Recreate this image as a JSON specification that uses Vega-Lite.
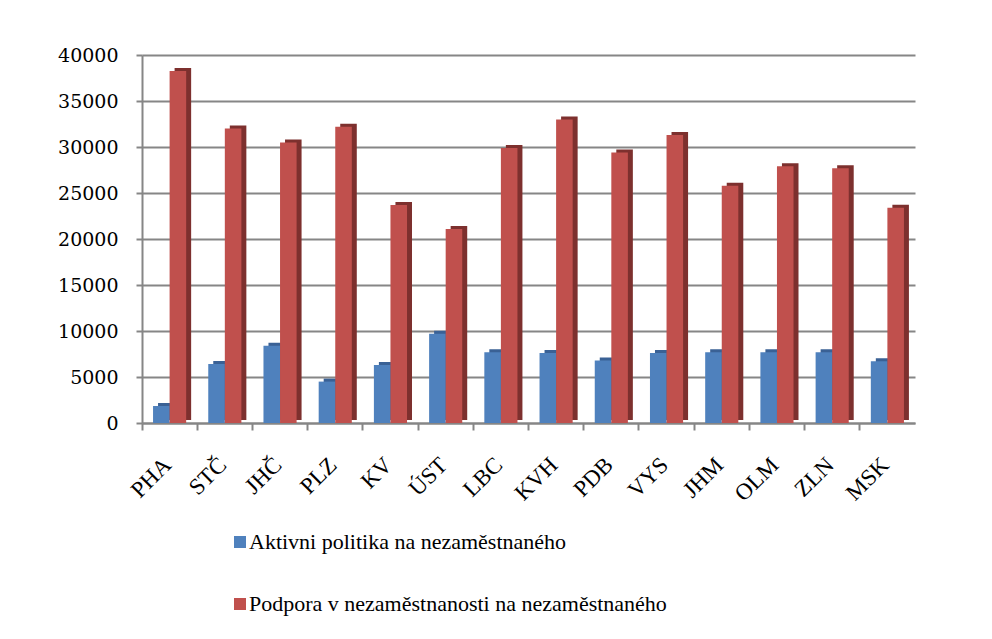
{
  "$schema": "https://vega.github.io/schema/vega-lite/v6.json",
  "autosize": {"type": "none"},
  "padding": {"left": 142, "top": 55, "right": 77, "bottom": 216},
  "width": 773,
  "height": 368,
  "background": "white",
  "data": {
    "values": [
      {"kraj": "PHA", "serie": "Aktivni politika na nezaměstnaného", "hodnota": 1850},
      {"kraj": "PHA", "serie": "Podpora v nezaměstnanosti na nezaměstnaného", "hodnota": 38250},
      {"kraj": "STČ", "serie": "Aktivni politika na nezaměstnaného", "hodnota": 6400},
      {"kraj": "STČ", "serie": "Podpora v nezaměstnanosti na nezaměstnaného", "hodnota": 32000},
      {"kraj": "JHČ", "serie": "Aktivni politika na nezaměstnaného", "hodnota": 8400},
      {"kraj": "JHČ", "serie": "Podpora v nezaměstnanosti na nezaměstnaného", "hodnota": 30500},
      {"kraj": "PLZ", "serie": "Aktivni politika na nezaměstnaného", "hodnota": 4500},
      {"kraj": "PLZ", "serie": "Podpora v nezaměstnanosti na nezaměstnaného", "hodnota": 32200},
      {"kraj": "KV", "serie": "Aktivni politika na nezaměstnaného", "hodnota": 6300},
      {"kraj": "KV", "serie": "Podpora v nezaměstnanosti na nezaměstnaného", "hodnota": 23700},
      {"kraj": "ÚST", "serie": "Aktivni politika na nezaměstnaného", "hodnota": 9700},
      {"kraj": "ÚST", "serie": "Podpora v nezaměstnanosti na nezaměstnaného", "hodnota": 21100},
      {"kraj": "LBC", "serie": "Aktivni politika na nezaměstnaného", "hodnota": 7700},
      {"kraj": "LBC", "serie": "Podpora v nezaměstnanosti na nezaměstnaného", "hodnota": 29900},
      {"kraj": "KVH", "serie": "Aktivni politika na nezaměstnaného", "hodnota": 7600},
      {"kraj": "KVH", "serie": "Podpora v nezaměstnanosti na nezaměstnaného", "hodnota": 33000},
      {"kraj": "PDB", "serie": "Aktivni politika na nezaměstnaného", "hodnota": 6800},
      {"kraj": "PDB", "serie": "Podpora v nezaměstnanosti na nezaměstnaného", "hodnota": 29400},
      {"kraj": "VYS", "serie": "Aktivni politika na nezaměstnaného", "hodnota": 7600},
      {"kraj": "VYS", "serie": "Podpora v nezaměstnanosti na nezaměstnaného", "hodnota": 31300},
      {"kraj": "JHM", "serie": "Aktivni politika na nezaměstnaného", "hodnota": 7700},
      {"kraj": "JHM", "serie": "Podpora v nezaměstnanosti na nezaměstnaného", "hodnota": 25800},
      {"kraj": "OLM", "serie": "Aktivni politika na nezaměstnaného", "hodnota": 7700},
      {"kraj": "OLM", "serie": "Podpora v nezaměstnanosti na nezaměstnaného", "hodnota": 27900},
      {"kraj": "ZLN", "serie": "Aktivni politika na nezaměstnaného", "hodnota": 7700},
      {"kraj": "ZLN", "serie": "Podpora v nezaměstnanosti na nezaměstnaného", "hodnota": 27700},
      {"kraj": "MSK", "serie": "Aktivni politika na nezaměstnaného", "hodnota": 6700},
      {"kraj": "MSK", "serie": "Podpora v nezaměstnanosti na nezaměstnaného", "hodnota": 23400}
    ]
  },
  "encoding": {
    "x": {
      "field": "kraj",
      "type": "nominal",
      "sort": null,
      "scale": {"paddingInner": 0.4, "paddingOuter": 0.2},
      "axis": {
        "title": null,
        "labelAngle": -45,
        "labelAlign": "right",
        "labelBaseline": "middle",
        "labelFont": "Liberation Serif",
        "labelFontSize": 23,
        "labelColor": "black",
        "labelPadding": 31,
        "labelOffset": -2,
        "bandPosition": -0.3333,
        "tickSize": 7,
        "tickColor": "#868686",
        "tickWidth": 2,
        "domainColor": "#868686",
        "domainWidth": 2,
        "grid": false
      }
    },
    "y": {
      "field": "hodnota",
      "type": "quantitative",
      "scale": {"domain": [0, 40000], "nice": false},
      "axis": {
        "title": null,
        "values": [0, 5000, 10000, 15000, 20000, 25000, 30000, 35000, 40000],
        "format": "d",
        "labelFont": "DejaVu Serif",
        "labelFontSize": 19,
        "labelColor": "black",
        "labelPadding": 18,
        "tickSize": 6,
        "tickColor": "#868686",
        "tickWidth": 2,
        "domainColor": "#868686",
        "domainWidth": 2,
        "gridColor": "#868686",
        "gridWidth": 2
      }
    }
  },
  "layer": [
    {
      "mark": {"type": "bar", "yOffset": -3},
      "encoding": {
        "xOffset": {"field": "serie", "type": "nominal", "scale": {"range": [5, 38.1]}},
        "color": {
          "field": "serie",
          "type": "nominal",
          "scale": {
            "domain": ["Aktivni politika na nezaměstnaného", "Podpora v nezaměstnanosti na nezaměstnaného"],
            "range": ["#3A6195", "#7D302E"]
          },
          "legend": null
        }
      }
    },
    {
      "mark": {"type": "bar"},
      "encoding": {
        "xOffset": {"field": "serie", "type": "nominal"},
        "color": {
          "field": "serie",
          "type": "nominal",
          "scale": {
            "domain": ["Aktivni politika na nezaměstnaného", "Podpora v nezaměstnanosti na nezaměstnaného"],
            "range": ["#4F81BD", "#C0504D"]
          },
          "legend": {
            "title": null,
            "orient": "none",
            "legendX": 87,
            "legendY": 476,
            "direction": "vertical",
            "symbolType": "square",
            "symbolSize": 144,
            "symbolStrokeWidth": 0,
            "rowPadding": 40,
            "labelOffset": -2,
            "labelFont": "Liberation Serif",
            "labelFontSize": 22,
            "labelColor": "black",
            "labelLimit": 700
          }
        }
      }
    }
  ],
  "resolve": {"scale": {"color": "independent", "xOffset": "independent"}},
  "config": {"view": {"stroke": null}}
}
